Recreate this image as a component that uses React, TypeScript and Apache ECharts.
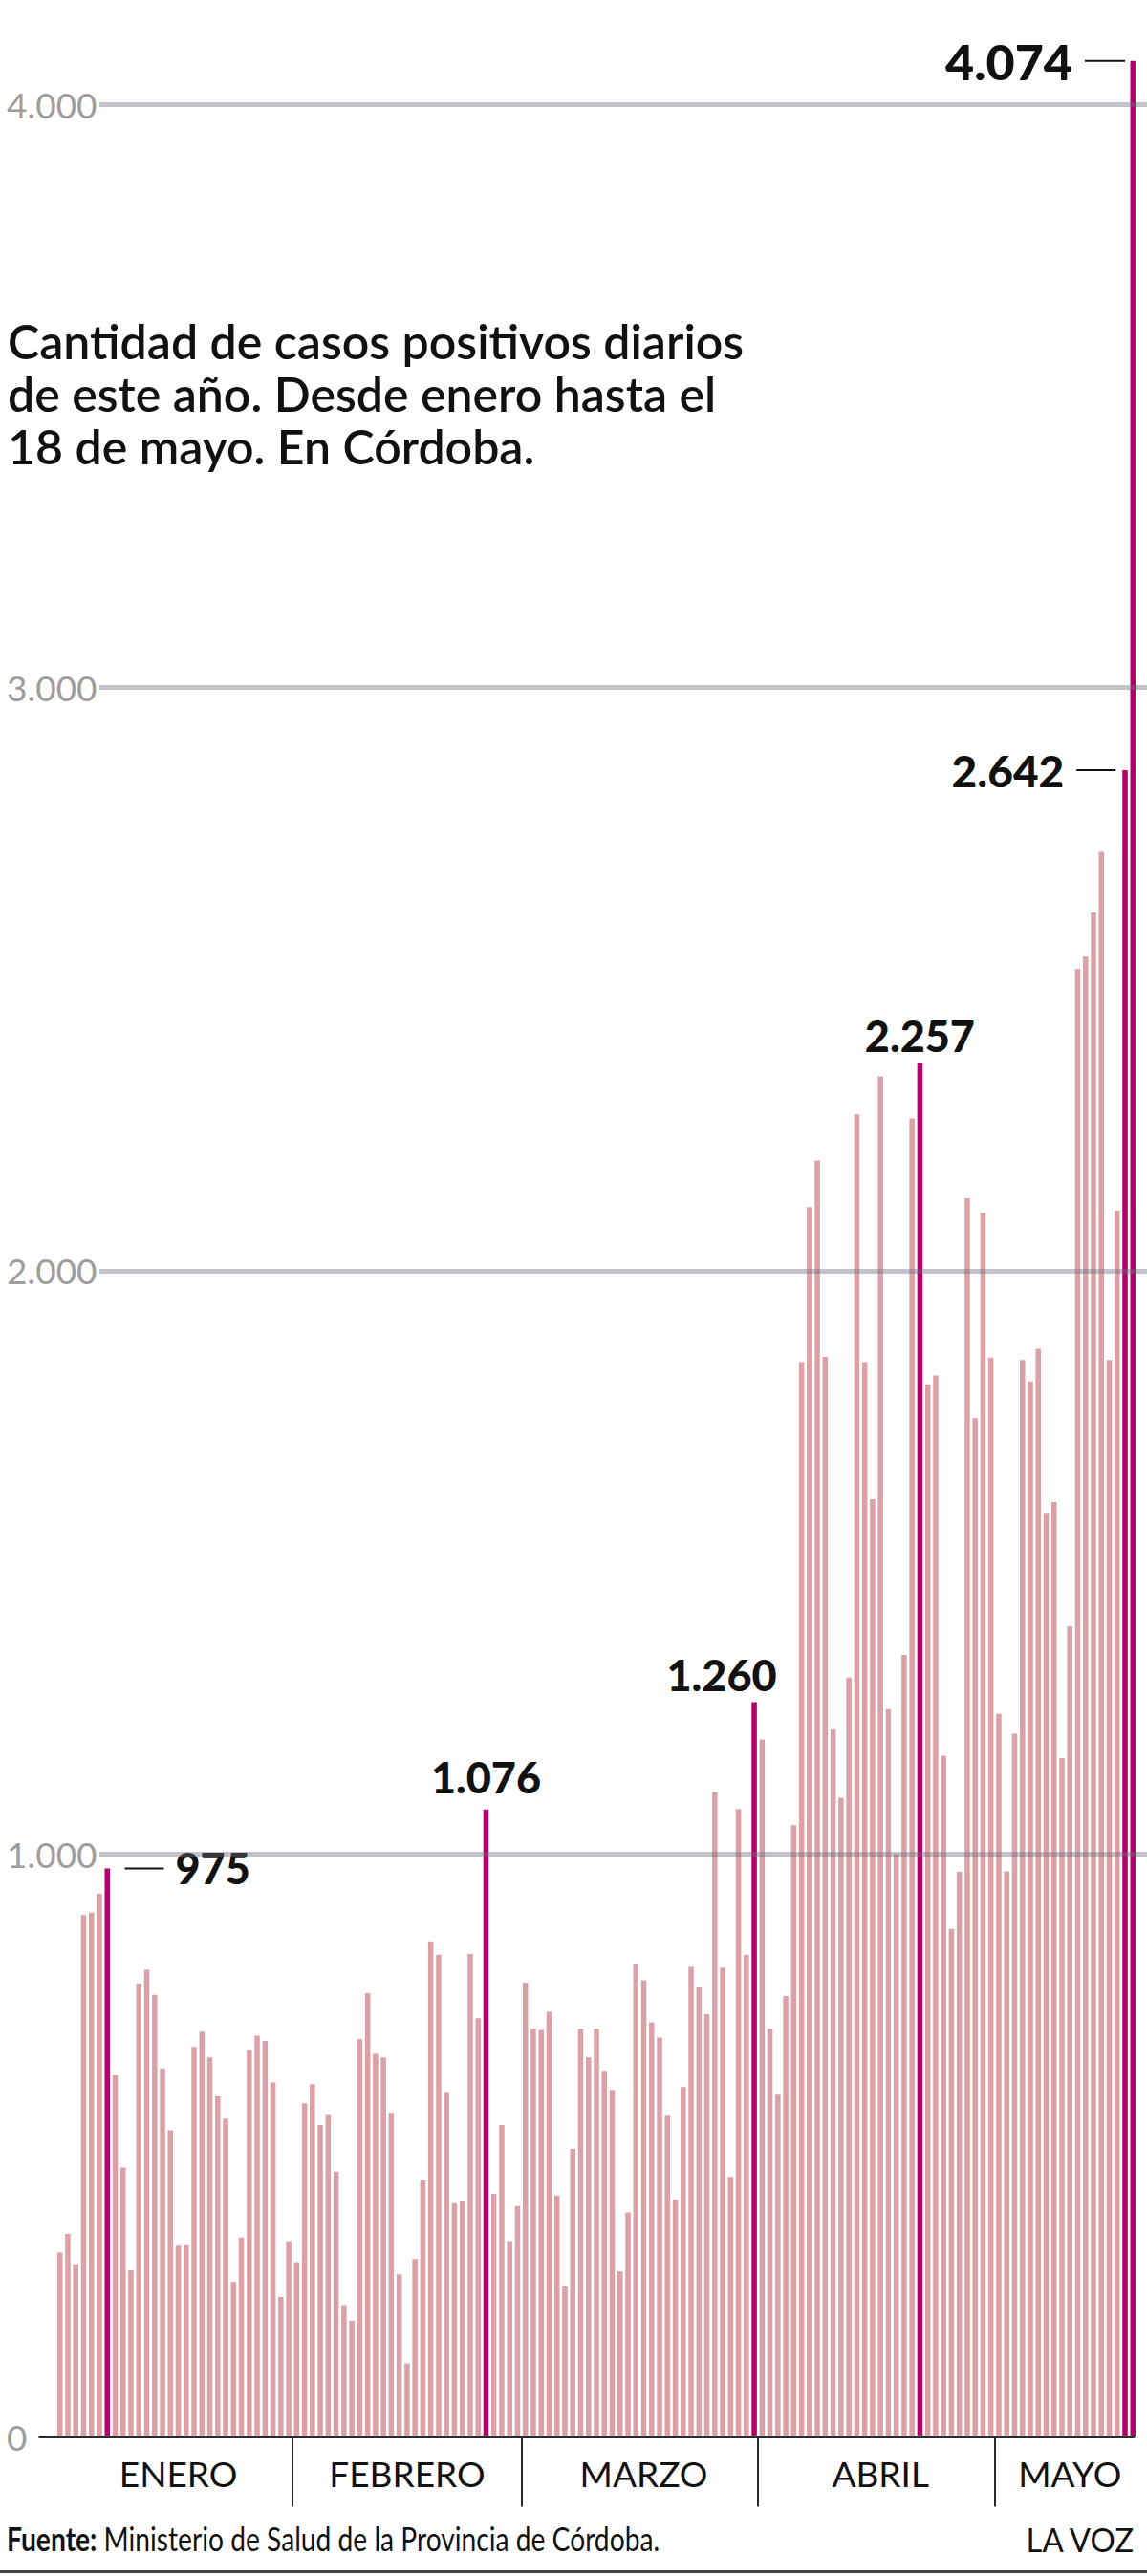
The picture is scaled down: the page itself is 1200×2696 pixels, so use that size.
import React, { useEffect, useRef } from "react";
import * as echarts from "echarts";

// Daily positive cases, Córdoba (2 Jan – 18 May)
const values: number[] = [
  316, 348, 296, 895, 899, 932, 975, 620, 462, 286,
  778, 801, 758, 632, 526, 328, 329, 669, 695, 651,
  584, 546, 266, 342, 663, 688, 679, 608, 240, 336,
  300, 572, 605, 535, 552, 455, 226, 199, 682, 761,
  657, 651, 556, 279, 126, 305, 440, 850, 827, 592,
  401, 404, 828, 718, 1076, 417, 535, 336, 396, 779,
  700, 698, 729, 414, 258, 494, 700, 651, 700, 628,
  595, 284, 385, 810, 783, 711, 685, 551, 407, 600,
  806, 771, 725, 1106, 805, 446, 1077, 827, 1260, 1196,
  700, 587, 756, 1049, 1843, 2109, 2189, 1852, 1213, 1096,
  1302, 2268, 1843, 1608, 2333, 1248, 1000, 1341, 2261, 2356,
  1805, 1820, 1168, 871, 969, 2124, 1747, 2099, 1851, 1240,
  970, 1206, 1847, 1810, 1866, 1583, 1603, 1164, 1390, 2517,
  2538, 2614, 2718, 1847, 2103, 2858, 4074,
];

const highlightIndex: number[] = [6, 54, 88, 109, 135, 136];
const highlightLabels: string[] = ["975", "1.076", "1.260", "2.257", "2.642", "4.074"];

const monthNames: string[] = ["ENERO", "FEBRERO", "MARZO", "ABRIL", "MAYO"];
const monthStarts: number[] = [0, 30, 59, 89, 119]; // bar index where each month starts, as drawn
const yTicks: number[] = [0, 1000, 2000, 3000, 4000];

const categories: string[] = values.map((_, i) => {
  const d = new Date(2021, 0, 2 + i);
  return `${d.getDate()}/${d.getMonth() + 1}`;
});

const FONT = "Lato, 'Open Sans', sans-serif";
const PINK = "#dca1a7";
const MAGENTA = "#b5006b";
const INK = "#111111";

const fmtThousands = (v: number) => String(v).replace(/\B(?=(\d{3})+(?!\d))/g, ".");

function labelFor(k: number, text: string): any {
  const t = { fontFamily: FONT, fontWeight: 900, color: INK, fontSize: 45 };
  const line = { width: 41, height: 2, backgroundColor: INK };
  const gap = { width: 12 };
  switch (k) {
    case 0:
      return {
        show: true, position: [21, 0], align: "left", verticalAlign: "middle",
        formatter: `{l|}{g|}{t|${text}}`, rich: { l: line, g: gap, t },
      };
    case 1:
      return { show: true, position: "top", distance: 11, formatter: text, ...t };
    case 2:
      return { show: true, position: "top", distance: 6, offset: [-34, 0], formatter: text, ...t };
    case 3:
      return { show: true, position: "top", distance: 6, formatter: text, ...t };
    case 4:
      return {
        show: true, position: [-7, 0], align: "right", verticalAlign: "middle",
        formatter: `{t|${text}}{g|}{l|}`, rich: { l: line, g: { width: 13 }, t: { ...t, fontSize: 46 } },
      };
    default:
      return {
        show: true, position: [-5.5, 0], align: "right", verticalAlign: "middle",
        formatter: `{t|${text}}{g|}{l|}`, rich: { l: { ...line, width: 42 }, g: { width: 13 }, t: { ...t, fontSize: 52 } },
      };
  }
}

export default function App() {
  const ref = useRef<HTMLDivElement>(null);

  useEffect(() => {
    document.body.style.margin = "0";
    if (!ref.current) return;
    const chart = echarts.init(ref.current, null, { renderer: "svg" });

    const data = values.map((v, i) => {
      const k = highlightIndex.indexOf(i);
      if (k < 0) return v;
      return { value: v, itemStyle: { color: MAGENTA }, label: labelFor(k, highlightLabels[k]) };
    });

    // category index at the middle of each month, where its name is written
    const monthMidIdx = monthStarts.map((s, i) =>
      Math.floor((s + (i + 1 < monthStarts.length ? monthStarts[i + 1] : values.length)) / 2)
    );

    const plotTop = 109;
    const plotBottom = 145.5;

    chart.setOption({
      animation: false,
      backgroundColor: "#ffffff",
      grid: [
        { left: 58.6, right: 10.6, top: plotTop, bottom: plotBottom, containLabel: false },
        { left: 104, right: 0, top: plotTop, bottom: plotBottom, containLabel: false },
        { left: 41.7, right: 14, top: plotTop, bottom: plotBottom, containLabel: false },
      ],
      xAxis: [
        {
          type: "category", gridIndex: 0, data: categories, boundaryGap: true, position: "bottom",
          axisLine: { show: false }, axisTick: { show: false }, splitLine: { show: false },
          axisLabel: {
            show: true, interval: (idx: number) => monthMidIdx.includes(idx),
            margin: 38, verticalAlign: "middle", fontFamily: FONT, fontSize: 37, fontWeight: 400, color: INK,
            formatter: (_v: string, idx: number) => {
              const m = monthMidIdx.indexOf(idx);
              return m >= 0 ? monthNames[m] : "";
            },
          },
        },
        {
          type: "value", gridIndex: 0, position: "bottom", min: 0, max: values.length,
          axisLine: { show: false }, splitLine: { show: false }, axisLabel: { show: false },
          axisTick: { show: true, customValues: monthStarts.slice(1), length: 73, lineStyle: { color: "#2a2a2a", width: 2 } },
        },
        { type: "value", gridIndex: 1, min: 0, max: 1, show: false },
        {
          type: "value", gridIndex: 2, min: 0, max: 1, z: 10,
          axisLine: { show: true, lineStyle: { color: "#2b2b2b", width: 3 } },
          axisTick: { show: false }, axisLabel: { show: false }, splitLine: { show: false },
        },
      ],
      yAxis: [
        { type: "value", gridIndex: 0, min: 0, max: 4000, interval: 1000, show: false },
        {
          type: "value", gridIndex: 1, min: 0, max: 4000, interval: 1000, z: 10,
          axisLine: { show: false }, axisTick: { show: false },
          splitLine: { show: true, showMinLine: false, lineStyle: { color: "rgba(110,110,125,0.42)", width: 5 } },
          axisLabel: {
            show: true, align: "left", margin: 97, fontFamily: FONT, fontSize: 37, color: "#9d9d9d",
            formatter: (v: number) => (yTicks.includes(v) ? fmtThousands(v) : ""),
          },
        },
        { type: "value", gridIndex: 2, min: 0, max: 1, show: false },
      ],
      series: [
        {
          type: "bar", xAxisIndex: 0, yAxisIndex: 0, data, clip: false,
          barCategoryGap: "33%", itemStyle: { color: PINK },
          label: { show: false },
        },
      ],
      graphic: [
        {
          type: "text", x: 8, y: 329.5,
          style: {
            text: "Cantidad de casos positivos diarios\nde este año. Desde enero hasta el\n18 de mayo. En Córdoba.",
            fontFamily: FONT, fontSize: 50, fontWeight: 600, lineHeight: 55, fill: INK, verticalAlign: "top",
          },
        },
        {
          type: "text", x: 7, y: 2657, scaleX: 0.806,
          style: {
            text: "{b|Fuente:} Ministerio de Salud de la Provincia de Córdoba.",
            rich: { b: { fontFamily: FONT, fontSize: 35, fontWeight: "bold", fill: INK } },
            fontFamily: FONT, fontSize: 35, fill: INK, verticalAlign: "middle",
          },
        },
        {
          type: "text", x: 1186, y: 2657, scaleX: 0.94,
          style: { text: "LA VOZ", fontFamily: FONT, fontSize: 35, fill: INK, align: "right", verticalAlign: "middle" },
        },
        { type: "rect", shape: { x: 0, y: 2690, width: 1200, height: 3 }, style: { fill: "#444444" } },
      ],
    });

    return () => chart.dispose();
  }, []);

  return <div ref={ref} style={{ width: 1200, height: 2696 }} />;
}
